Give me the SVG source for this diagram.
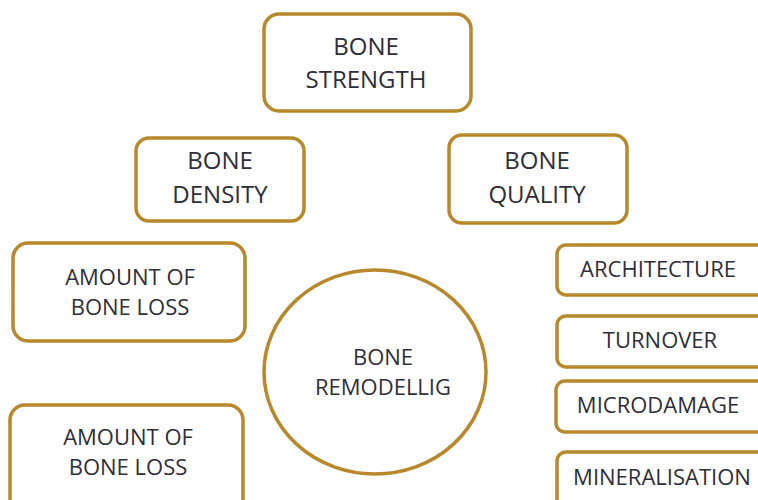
<svg xmlns="http://www.w3.org/2000/svg" width="758" height="500" viewBox="0 0 758 500">
<style>
.box{fill:#ffffff;stroke:#b8892c;stroke-width:3.5}
.t{font-family:"Open Sans","Noto Sans",sans-serif;fill:#2e2e38;text-anchor:middle}
.l{font-size:24px}
.s{font-size:22px}
</style>
<rect width="758" height="500" fill="#ffffff"/>
<g id="connectors"/>
<g id="bone-strength">
<rect class="box" x="264" y="14" width="207" height="97" rx="15"/>
<text class="t l" x="366" y="55">BONE</text>
<text class="t l" x="366" y="88">STRENGTH</text>
</g>
<g id="bone-density">
<rect class="box" x="136" y="138" width="168" height="83" rx="13"/>
<text class="t l" x="220" y="169">BONE</text>
<text class="t l" x="220" y="203">DENSITY</text>
</g>
<g id="bone-quality">
<rect class="box" x="449" y="135" width="178" height="88" rx="13"/>
<text class="t l" x="537" y="169">BONE</text>
<text class="t l" x="537" y="203">QUALITY</text>
</g>
<g id="amount-bone-loss-1">
<rect class="box" x="13" y="243" width="232" height="98" rx="15"/>
<text class="t s" x="130" y="285">AMOUNT OF</text>
<text class="t s" x="130" y="315">BONE LOSS</text>
</g>
<g id="amount-bone-loss-2">
<rect class="box" x="10" y="405" width="233" height="110" rx="15"/>
<text class="t s" x="128" y="445">AMOUNT OF</text>
<text class="t s" x="128" y="475">BONE LOSS</text>
</g>
<g id="bone-remodelling">
<ellipse class="box" cx="375" cy="372" rx="111" ry="102"/>
<text class="t s" x="383" y="365">BONE</text>
<text class="t s" x="383" y="395">REMODELLIG</text>
</g>
<g id="architecture">
<rect class="box" x="557" y="245" width="215" height="50" rx="9"/>
<text class="t s" x="658" y="277">ARCHITECTURE</text>
</g>
<g id="turnover">
<rect class="box" x="557" y="316" width="215" height="51" rx="9"/>
<text class="t s" x="660" y="348">TURNOVER</text>
</g>
<g id="microdamage">
<rect class="box" x="556" y="381" width="216" height="51" rx="9"/>
<text class="t s" x="658" y="413">MICRODAMAGE</text>
</g>
<g id="mineralisation">
<rect class="box" x="557" y="452" width="215" height="70" rx="9"/>
<text class="t s" x="662" y="485">MINERALISATION</text>
</g>
</svg>
